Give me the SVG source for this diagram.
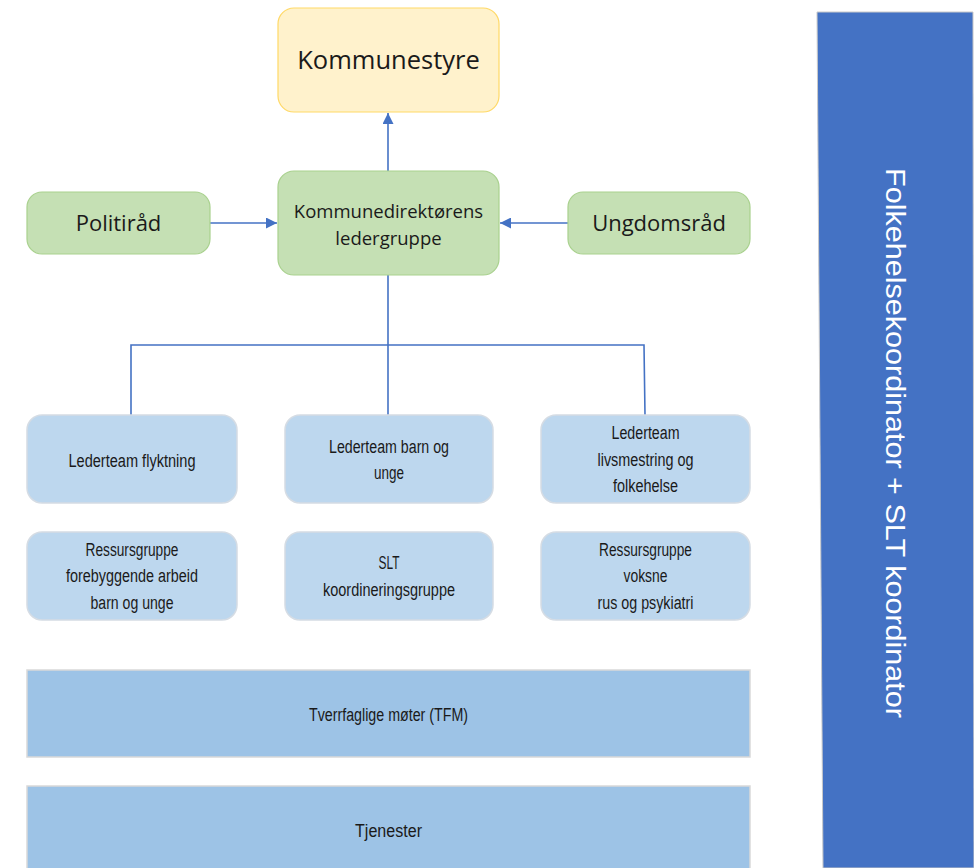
<svg xmlns="http://www.w3.org/2000/svg" width="974" height="868" viewBox="0 0 974 868">
<defs>
<style>
.top{font-family:"Open Sans","Liberation Sans",sans-serif;fill:#1a1a1a;text-anchor:middle}
.low{font-family:"Liberation Sans",sans-serif;font-size:18px;fill:#1a1a1a;text-anchor:middle}
.green{fill:#C5E0B4;stroke:#A9D18E;stroke-width:1.2}
.lb{fill:#BDD7EE;stroke:#D5DCE4;stroke-width:1.5}
.band{fill:#9DC3E6;stroke:#D9D9D9;stroke-width:1.5}
.conn{fill:none;stroke:#4472C4;stroke-width:1.6}
</style>
<marker id="ah" viewBox="0 0 10 10" refX="10" refY="5" markerWidth="12" markerHeight="11" markerUnits="userSpaceOnUse" orient="auto">
<path d="M0,0 L10,5 L0,10 Z" fill="#4472C4"/>
</marker>
</defs>
<rect width="974" height="868" fill="#ffffff"/>

<g id="connectors">
<line class="conn" x1="388" y1="171" x2="388" y2="113" marker-end="url(#ah)"/>
<line class="conn" x1="210" y1="223" x2="277" y2="223" marker-end="url(#ah)"/>
<line class="conn" x1="568" y1="223" x2="500" y2="223" marker-end="url(#ah)"/>
<polyline class="conn" points="388,275 388,345"/>
<polyline class="conn" points="131,415 131,345 644,345 645,415"/>
<line class="conn" x1="388" y1="345" x2="388" y2="415"/>
</g>

<g id="kommunestyre">
<rect x="278" y="8" width="221" height="104" rx="16" fill="#FFF2CC" stroke="#FFD966" stroke-width="1.2"/>
<text class="top" x="388.5" y="69" font-size="25.5">Kommunestyre</text>
</g>

<g id="kommunedirektoren">
<rect class="green" x="278" y="171" width="221" height="104" rx="16"/>
<text class="top" x="388.5" y="218" font-size="18.5">Kommunedirektørens</text>
<text class="top" x="388.5" y="245" font-size="18.5">ledergruppe</text>
</g>

<g id="politirad">
<rect class="green" x="27" y="192" width="183" height="62" rx="15"/>
<text class="top" x="118.5" y="231" font-size="22">Politiråd</text>
</g>

<g id="ungdomsrad">
<rect class="green" x="568" y="192" width="182" height="62" rx="15"/>
<text class="top" x="659" y="231" font-size="22">Ungdomsråd</text>
</g>

<g id="lederteam-flyktning">
<rect class="lb" x="27" y="415" width="210" height="88" rx="15"/>
<text class="low" x="132" y="467" textLength="127" lengthAdjust="spacingAndGlyphs">Lederteam flyktning</text>
</g>

<g id="lederteam-barn">
<rect class="lb" x="285" y="415" width="208" height="88" rx="15"/>
<text class="low" x="389" y="453" textLength="120" lengthAdjust="spacingAndGlyphs">Lederteam barn og</text>
<text class="low" x="389" y="479" textLength="30" lengthAdjust="spacingAndGlyphs">unge</text>
</g>

<g id="lederteam-livsmestring">
<rect class="lb" x="541" y="415" width="209" height="88" rx="15"/>
<text class="low" x="645.5" y="439" textLength="68" lengthAdjust="spacingAndGlyphs">Lederteam</text>
<text class="low" x="645.5" y="466" textLength="96" lengthAdjust="spacingAndGlyphs">livsmestring og</text>
<text class="low" x="645.5" y="492" textLength="65" lengthAdjust="spacingAndGlyphs">folkehelse</text>
</g>

<g id="ressursgruppe-barn">
<rect class="lb" x="27" y="532" width="210" height="88" rx="15"/>
<text class="low" x="132" y="556" textLength="93" lengthAdjust="spacingAndGlyphs">Ressursgruppe</text>
<text class="low" x="132" y="582" textLength="132" lengthAdjust="spacingAndGlyphs">forebyggende arbeid</text>
<text class="low" x="132" y="609" textLength="83" lengthAdjust="spacingAndGlyphs">barn og unge</text>
</g>

<g id="slt-koordineringsgruppe">
<rect class="lb" x="285" y="532" width="208" height="88" rx="15"/>
<text class="low" x="389" y="569" textLength="21" lengthAdjust="spacingAndGlyphs">SLT</text>
<text class="low" x="389" y="596" textLength="132" lengthAdjust="spacingAndGlyphs">koordineringsgruppe</text>
</g>

<g id="ressursgruppe-voksne">
<rect class="lb" x="541" y="532" width="209" height="88" rx="15"/>
<text class="low" x="645.5" y="556" textLength="93" lengthAdjust="spacingAndGlyphs">Ressursgruppe</text>
<text class="low" x="645.5" y="582" textLength="44" lengthAdjust="spacingAndGlyphs">voksne</text>
<text class="low" x="645.5" y="609" textLength="96" lengthAdjust="spacingAndGlyphs">rus og psykiatri</text>
</g>

<g id="tfm">
<rect class="band" x="27" y="670" width="723" height="87"/>
<text class="low" x="388.5" y="721" textLength="159" lengthAdjust="spacingAndGlyphs">Tverrfaglige møter (TFM)</text>
</g>

<g id="tjenester">
<rect class="band" x="27" y="786" width="723" height="84"/>
<text class="low" x="388.5" y="837" textLength="67" lengthAdjust="spacingAndGlyphs">Tjenester</text>
</g>

<g id="koordinator">
<polygon points="817,12 973,12 974,868 823,868" fill="#4472C4" stroke="#C9C9C9" stroke-width="1"/>
<text transform="translate(886,443) rotate(90)" font-family="Liberation Sans,sans-serif" font-size="28" fill="#ffffff" text-anchor="middle" textLength="550" lengthAdjust="spacingAndGlyphs">Folkehelsekoordinator + SLT koordinator</text>
</g>
</svg>
